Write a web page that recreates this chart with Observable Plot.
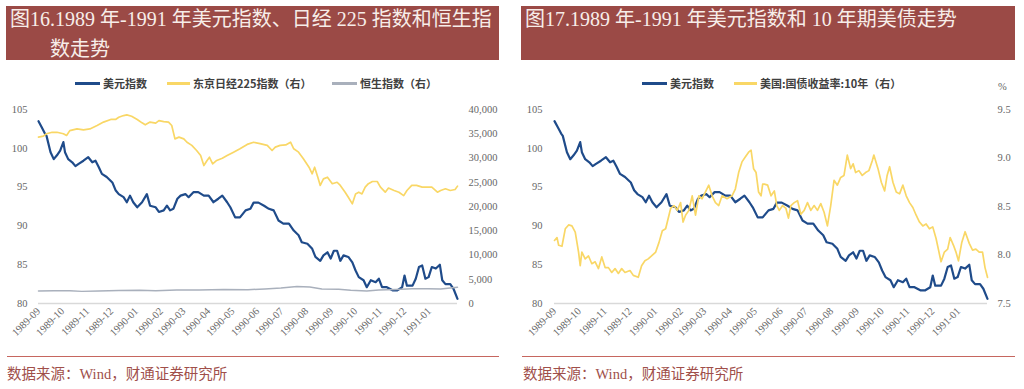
<!DOCTYPE html>
<html><head><meta charset="utf-8">
<script src="https://cdn.jsdelivr.net/npm/d3@7"></script>
<script src="https://cdn.jsdelivr.net/npm/@observablehq/plot@0.6"></script>
<style>
body{margin:0;width:1024px;height:389px;position:relative;background:#fff;overflow:hidden;font-family:"Liberation Serif","Noto Sans CJK SC",serif;}
.box{position:absolute;top:6px;height:54px;background:#9b4a46;color:#f7ede9;font-size:20px;line-height:24px;}
.tl{position:absolute;white-space:nowrap;}
.leg{position:absolute;top:76px;height:14px;font-family:"Noto Sans CJK SC",sans-serif;font-weight:700;font-size:11px;line-height:14px;color:#404040;white-space:nowrap;}
.sw{position:absolute;top:82px;height:2.5px;}
.rule{position:absolute;top:355.5px;height:1.5px;background:#c6665f;}
.src{position:absolute;top:365px;font-size:14.5px;line-height:18px;color:#a04f4a;white-space:nowrap;}
.chart{position:absolute;top:95px;}
.unit{position:absolute;top:81px;left:998px;font-size:10.5px;color:#666;}
</style></head>
<body>
<div class="box" style="left:6px;width:493px;">
  <div class="tl" style="left:4px;top:1px;">图16.1989 年-1991 年美元指数、日经 225 指数和恒生指</div>
  <div class="tl" style="left:44px;top:31px;">数走势</div>
</div>
<div class="box" style="left:521px;width:494px;">
  <div class="tl" style="left:4px;top:1px;">图17.1989 年-1991 年美元指数和 10 年期美债走势</div>
</div>

<div class="sw" style="left:75px;width:25px;background:#1f4b8a"></div>
<div class="leg" style="left:103px;">美元指数</div>
<div class="sw" style="left:167px;width:23px;background:#f9d766"></div>
<div class="leg" style="left:193px;">东京日经225指数（右）</div>
<div class="sw" style="left:332px;width:25px;background:#a9b0bc"></div>
<div class="leg" style="left:360px;">恒生指数（右）</div>

<div class="sw" style="left:642px;width:25px;background:#1f4b8a"></div>
<div class="leg" style="left:670px;">美元指数</div>
<div class="sw" style="left:734px;width:23px;background:#f9d766"></div>
<div class="leg" style="left:760px;">美国:国债收益率:10年（右）</div>
<div class="unit">%</div>

<div id="c1" class="chart" style="left:0px;"></div>
<div id="c2" class="chart" style="left:512px;"></div>

<div class="rule" style="left:7px;width:492px;"></div>
<div class="rule" style="left:522px;width:493px;"></div>
<div class="src" style="left:7px;">数据来源：Wind，财通证券研究所</div>
<div class="src" style="left:523px;">数据来源：Wind，财通证券研究所</div>

<script>
// ---------- data ----------
const xStart = "1989-09-01";
const xEnd = "1991-02-05";
const xTicks = ["1989-09","1989-10","1989-11","1989-12","1990-01","1990-02","1990-03","1990-04","1990-05","1990-06","1990-07","1990-08","1990-09","1990-10","1990-11","1990-12","1991-01"];
const leftTicks = [80, 85, 90, 95, 100, 105];
const nikkeiTicks = [0, 5000, 10000, 15000, 20000, 25000, 30000, 35000, 40000];
const yieldTicks = [7.5, 8.0, 8.5, 9.0, 9.5];

const dxyDates = ["1989-09-01","1989-09-05","1989-09-09","1989-09-11","1989-09-16","1989-09-20","1989-09-24","1989-09-28","1989-10-02","1989-10-04","1989-10-08","1989-10-13","1989-10-17","1989-10-21","1989-10-27","1989-11-02","1989-11-07","1989-11-11","1989-11-15","1989-11-19","1989-11-25","1989-12-02","1989-12-06","1989-12-10","1989-12-16","1989-12-20","1989-12-24","1989-12-28","1990-01-02","1990-01-08","1990-01-14","1990-01-18","1990-01-25","1990-01-29","1990-02-04","1990-02-08","1990-02-12","1990-02-16","1990-02-21","1990-02-25","1990-03-03","1990-03-07","1990-03-13","1990-03-19","1990-03-26","1990-04-01","1990-04-07","1990-04-13","1990-04-18","1990-04-24","1990-04-28","1990-05-04","1990-05-10","1990-05-17","1990-05-23","1990-05-27","1990-06-02","1990-06-09","1990-06-15","1990-06-21","1990-06-27","1990-07-03","1990-07-10","1990-07-16","1990-07-22","1990-07-26","1990-08-02","1990-08-08","1990-08-12","1990-08-18","1990-08-22","1990-08-27","1990-08-31","1990-09-04","1990-09-08","1990-09-12","1990-09-16","1990-09-22","1990-09-27","1990-10-01","1990-10-05","1990-10-11","1990-10-15","1990-10-20","1990-10-26","1990-10-30","1990-11-03","1990-11-09","1990-11-16","1990-11-22","1990-11-28","1990-12-01","1990-12-04","1990-12-11","1990-12-15","1990-12-19","1990-12-23","1990-12-27","1990-12-31","1991-01-04","1991-01-09","1991-01-14","1991-01-17","1991-01-21","1991-01-27","1991-01-31","1991-02-05"];
const dxyValues = [103.5,102.7,101.9,101.6,99.5,98.6,99.1,99.7,100.8,99.5,98.6,98.2,97.7,98.0,98.4,98.85,98.2,98.4,97.6,96.7,96.3,95.6,94.6,94.1,93.7,93.05,93.9,93.05,92.4,93.05,94.1,92.6,92.4,91.8,92.0,92.6,92.0,92.2,93.5,93.9,94.1,93.7,94.35,94.35,93.9,93.9,93.05,93.5,93.9,93.05,92.4,91.1,91.1,92.0,92.2,93.0,93.0,92.6,92.2,92.0,90.7,90.3,90.3,89.4,88.8,87.9,87.7,87.05,86.0,85.5,86.2,86.6,85.8,86.8,86.8,85.5,86.2,86.0,85.3,84.25,83.4,83.0,82.1,83.0,82.75,83.2,82.1,82.1,81.7,81.7,82.1,83.6,82.3,82.3,83.2,84.7,84.9,83.2,83.4,84.7,84.5,85.0,83.0,82.5,82.5,81.9,80.6];

const nikkeiDates = ["1989-09-01","1989-09-07","1989-09-11","1989-09-18","1989-09-24","1989-10-02","1989-10-06","1989-10-10","1989-10-19","1989-10-27","1989-11-04","1989-11-13","1989-11-21","1989-11-30","1989-12-06","1989-12-10","1989-12-16","1989-12-20","1989-12-26","1990-01-02","1990-01-08","1990-01-12","1990-01-18","1990-01-25","1990-01-29","1990-02-04","1990-02-10","1990-02-14","1990-02-18","1990-02-23","1990-03-01","1990-03-05","1990-03-11","1990-03-17","1990-03-22","1990-03-26","1990-03-30","1990-04-02","1990-04-06","1990-04-11","1990-04-18","1990-04-24","1990-05-02","1990-05-10","1990-05-19","1990-05-27","1990-06-04","1990-06-13","1990-06-19","1990-06-23","1990-06-29","1990-07-06","1990-07-12","1990-07-16","1990-07-22","1990-07-28","1990-08-04","1990-08-08","1990-08-11","1990-08-15","1990-08-18","1990-08-22","1990-08-27","1990-09-02","1990-09-08","1990-09-12","1990-09-18","1990-09-22","1990-09-27","1990-10-01","1990-10-05","1990-10-09","1990-10-13","1990-10-17","1990-10-22","1990-10-28","1990-11-01","1990-11-07","1990-11-11","1990-11-18","1990-11-24","1990-11-30","1990-12-04","1990-12-10","1990-12-16","1990-12-23","1990-12-29","1991-01-04","1991-01-11","1991-01-15","1991-01-21","1991-01-27","1991-02-02","1991-02-05"];
const nikkeiValues = [34300,34500,35000,35300,35300,35000,34650,35650,36000,35800,36000,36700,37400,37950,37950,38400,38750,38900,38600,37950,37250,36850,37400,37200,37700,37500,37400,36700,33950,34300,33950,33250,32600,31550,30500,28450,29500,30150,28800,29500,29950,30500,31200,31900,32800,33250,32950,32600,31550,32250,32600,32700,33250,31900,31200,29850,28100,26750,28100,26050,24350,25700,26050,24700,25000,24350,22950,21900,20550,22600,22950,22600,24000,24700,25150,25150,24000,22950,23800,23300,22950,22250,23300,24350,24350,24000,24000,24000,22950,23300,23650,23300,23500,24200];

const hsiDates = ["1989-09-01","1989-09-20","1989-10-10","1989-10-25","1989-11-15","1989-12-10","1990-01-05","1990-01-25","1990-02-20","1990-03-20","1990-04-20","1990-05-20","1990-06-10","1990-06-30","1990-07-20","1990-08-05","1990-08-20","1990-09-10","1990-09-25","1990-10-15","1990-10-30","1990-11-20","1990-12-10","1990-12-30","1991-01-15","1991-02-05"];
const hsiValues = [2600,2650,2650,2500,2600,2700,2750,2650,2800,2800,2900,2850,3000,3200,3500,3400,3000,2950,2750,2600,2800,2900,3050,3050,3000,3350];

const yieldDates = ["1989-09-01","1989-09-04","1989-09-06","1989-09-10","1989-09-14","1989-09-18","1989-09-22","1989-09-26","1989-09-30","1989-10-02","1989-10-04","1989-10-08","1989-10-12","1989-10-16","1989-10-20","1989-10-24","1989-10-28","1989-11-01","1989-11-05","1989-11-09","1989-11-13","1989-11-17","1989-11-21","1989-11-25","1989-12-01","1989-12-05","1989-12-11","1989-12-15","1989-12-19","1989-12-23","1989-12-27","1990-01-01","1990-01-05","1990-01-09","1990-01-13","1990-01-15","1990-01-19","1990-01-23","1990-01-27","1990-01-31","1990-02-03","1990-02-06","1990-02-10","1990-02-14","1990-02-18","1990-02-22","1990-02-26","1990-03-02","1990-03-06","1990-03-10","1990-03-14","1990-03-18","1990-03-22","1990-03-28","1990-04-03","1990-04-07","1990-04-11","1990-04-15","1990-04-19","1990-04-23","1990-04-26","1990-04-29","1990-05-02","1990-05-05","1990-05-08","1990-05-10","1990-05-12","1990-05-16","1990-05-20","1990-05-24","1990-05-27","1990-05-30","1990-06-03","1990-06-07","1990-06-10","1990-06-13","1990-06-17","1990-06-21","1990-06-25","1990-06-29","1990-07-03","1990-07-07","1990-07-11","1990-07-15","1990-07-19","1990-07-23","1990-07-27","1990-07-31","1990-08-04","1990-08-08","1990-08-12","1990-08-16","1990-08-20","1990-08-24","1990-08-27","1990-08-30","1990-09-03","1990-09-07","1990-09-11","1990-09-15","1990-09-19","1990-09-21","1990-09-26","1990-09-30","1990-10-04","1990-10-07","1990-10-10","1990-10-14","1990-10-18","1990-10-22","1990-10-26","1990-10-30","1990-11-03","1990-11-07","1990-11-11","1990-11-15","1990-11-19","1990-11-23","1990-11-27","1990-12-01","1990-12-05","1990-12-08","1990-12-11","1990-12-15","1990-12-19","1990-12-22","1990-12-26","1990-12-29","1991-01-01","1991-01-05","1991-01-09","1991-01-14","1991-01-18","1991-01-22","1991-01-26","1991-01-30","1991-02-02","1991-02-05"];
const yieldValues = [8.15,8.18,8.10,8.09,8.27,8.31,8.30,8.235,8.03,7.89,8.03,7.96,7.99,7.91,7.93,7.86,7.98,7.87,7.87,7.82,7.86,7.81,7.86,7.82,7.84,7.79,7.77,7.89,7.94,7.96,7.99,8.03,8.13,8.25,8.27,8.34,8.48,8.51,8.46,8.54,8.34,8.41,8.46,8.61,8.41,8.61,8.58,8.65,8.72,8.61,8.54,8.51,8.61,8.58,8.61,8.68,8.85,8.96,9.01,9.06,9.08,8.89,8.85,8.65,8.61,8.73,8.73,8.72,8.61,8.66,8.51,8.46,8.51,8.48,8.38,8.51,8.54,8.56,8.42,8.46,8.54,8.46,8.51,8.46,8.53,8.44,8.30,8.51,8.77,8.72,8.80,8.82,9.03,8.89,8.94,8.85,8.87,8.82,8.85,8.87,8.97,9.03,8.89,8.75,8.66,8.82,8.91,8.75,8.65,8.63,8.72,8.61,8.54,8.49,8.41,8.34,8.30,8.32,8.27,8.29,8.17,8.05,7.93,8.03,8.06,8.18,8.10,8.03,7.94,8.13,8.24,8.12,8.05,8.06,8.03,8.03,7.87,7.77];

// ---------- helpers ----------
const nikkeiToLeft = v => 80 + v / 40000 * 25;
const leftToNikkei = d => Math.round((d - 80) / 25 * 40000);
const yieldToLeft = v => 80 + (v - 7.5) / 2 * 25;
const leftToYield = d => (d - 80) / 25 * 2 + 7.5;
const rows = (ds, vs, f = v => v) => ds.map((d, i) => ({date: new Date(d), y: f(vs[i])}));

const dxy = rows(dxyDates, dxyValues);
const nikkei = rows(nikkeiDates, nikkeiValues, nikkeiToLeft);
const hsi = rows(hsiDates, hsiValues, nikkeiToLeft);
const yld = rows(yieldDates, yieldValues, yieldToLeft);
const tickDates = xTicks.map(t => new Date(t + "-01"));
const fmtMonth = d3.utcFormat("%Y-%m");

const BLUE = "#1f4b8a", YELLOW = "#f9d766", GRAY = "#a9b0bc";
const style = {fontFamily: "'Liberation Serif', serif", fontSize: "10.5px", color: "#666", background: "transparent", overflow: "visible"};

function common(marginLeft, marginRight) {
  return {
    width: 512, height: 260, marginLeft, marginRight, marginTop: 14, marginBottom: 52,
    x: {type: "utc", domain: [new Date(xStart), new Date(xEnd)]},
    y: {domain: [leftTicks[0], leftTicks[leftTicks.length - 1]]},
    style
  };
}

const c1 = Plot.plot({
  ...common(38, 55),
  marks: [
    Plot.ruleY([leftTicks[0]], {stroke: "#d9d9d9", strokeWidth: 1.3}),
    Plot.axisX(tickDates, {tickSize: 0, tickPadding: 6, tickRotate: -45, tickFormat: fmtMonth, label: null}),
    Plot.axisY(leftTicks, {anchor: "left", tickSize: 0, tickPadding: 11, label: null}),
    Plot.axisY(nikkeiTicks.map(nikkeiToLeft), {anchor: "right", tickSize: 0, tickPadding: 11, tickFormat: d => d3.format(",")(leftToNikkei(d)), label: null}),
    Plot.line(dxy, {x: "date", y: "y", stroke: BLUE, strokeWidth: 2.2}),
    Plot.line(nikkei, {x: "date", y: "y", stroke: YELLOW, strokeWidth: 1.7}),
    Plot.line(hsi, {x: "date", y: "y", stroke: GRAY, strokeWidth: 1.5})
  ]
});
document.getElementById("c1").append(c1);

const c2 = Plot.plot({
  ...common(42, 37),
  marks: [
    Plot.ruleY([leftTicks[0]], {stroke: "#d9d9d9", strokeWidth: 1.3}),
    Plot.axisX(tickDates, {tickSize: 0, tickPadding: 6, tickRotate: -45, tickFormat: fmtMonth, label: null}),
    Plot.axisY(leftTicks, {anchor: "left", tickSize: 0, tickPadding: 12, label: null}),
    Plot.axisY(yieldTicks.map(yieldToLeft), {anchor: "right", tickSize: 0, tickPadding: 10, tickFormat: d => leftToYield(d).toFixed(1), label: null}),
    Plot.line(dxy, {x: "date", y: "y", stroke: BLUE, strokeWidth: 2.2}),
    Plot.line(yld, {x: "date", y: "y", stroke: YELLOW, strokeWidth: 1.7})
  ]
});
document.getElementById("c2").append(c2);
</script>
</body></html>
